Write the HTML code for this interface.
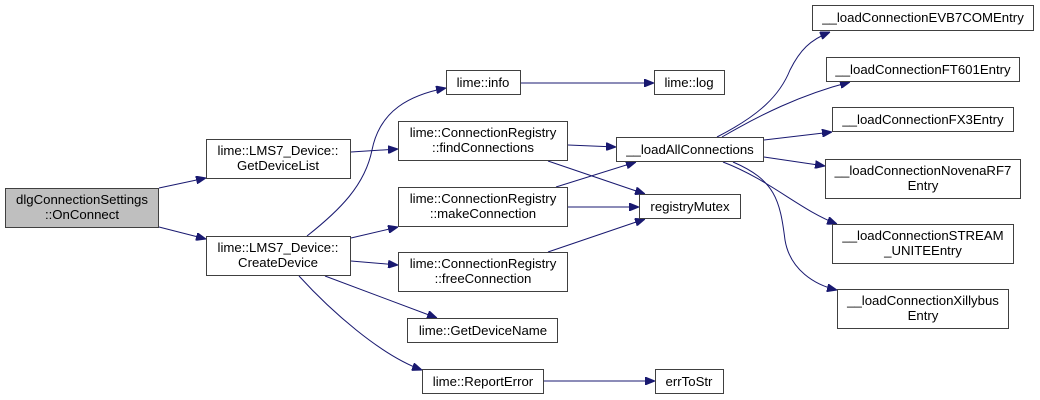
<!DOCTYPE html>
<html><head><meta charset="utf-8"><style>
html,body{margin:0;padding:0;background:#fff;}
svg{display:block;}
text{font-family:"Liberation Sans",sans-serif;font-size:13.2px;fill:#000;}
</style></head><body>
<svg width="1040" height="400" viewBox="0 0 1040 400" xmlns="http://www.w3.org/2000/svg">
<defs>
<marker id="a" viewBox="0 0 10 8" refX="10" refY="4" markerWidth="10" markerHeight="8" markerUnits="userSpaceOnUse" orient="auto">
<path d="M0,0 L10,4 L0,8 z" fill="#191970" stroke="#191970"/>
</marker>
</defs>
<g fill="none" stroke="#191970" stroke-width="1" marker-end="url(#a)">
<path d="M159,188 L206,178"/>
<path d="M159,227 L206,239"/>
<path d="M351,152 L398,149"/>
<path d="M307,236 C340,210 365,185 372,150 C380,110 410,95 446,88"/>
<path d="M351,238 L398,227"/>
<path d="M351,261 L398,265"/>
<path d="M325,276 L437,318"/>
<path d="M299,276 C330,310 380,355 422,370"/>
<path d="M521,83 L654,83"/>
<path d="M568,145 L616,147"/>
<path d="M548,161 L645,194"/>
<path d="M556,187 L636,162"/>
<path d="M568,207 L639,207"/>
<path d="M548,252 L645,219"/>
<path d="M544,381 L655,381"/>
<path d="M717,137 C760,115 780,95 790,70 C800,50 810,40 830,32"/>
<path d="M722,137 C760,115 800,95 850,82"/>
<path d="M764,140 L832,132"/>
<path d="M764,157 L825,166"/>
<path d="M723,162 C770,180 800,210 837,224"/>
<path d="M733,162 C775,180 780,200 785,240 C790,270 815,285 837,290"/>
</g>
<g stroke="#404040" stroke-width="1">
<rect x="5.5" y="188.5" width="153" height="39" fill="#bfbfbf"/>
<rect x="206.5" y="139.5" width="144" height="39" fill="#fff"/>
<rect x="206.5" y="236.5" width="144" height="39" fill="#fff"/>
<rect x="446.5" y="70.5" width="74" height="24" fill="#fff"/>
<rect x="654.5" y="70.5" width="70" height="24" fill="#fff"/>
<rect x="398.5" y="121.5" width="169" height="39" fill="#fff"/>
<rect x="616.5" y="137.5" width="147" height="24" fill="#fff"/>
<rect x="398.5" y="187.5" width="169" height="39" fill="#fff"/>
<rect x="639.5" y="194.5" width="101" height="24" fill="#fff"/>
<rect x="398.5" y="252.5" width="169" height="39" fill="#fff"/>
<rect x="407.5" y="318.5" width="150" height="24" fill="#fff"/>
<rect x="422.5" y="369.5" width="121" height="24" fill="#fff"/>
<rect x="655.5" y="369.5" width="68" height="24" fill="#fff"/>
<rect x="812.5" y="5.5" width="221" height="25" fill="#fff"/>
<rect x="826.5" y="57.5" width="193" height="24" fill="#fff"/>
<rect x="832.5" y="107.5" width="181" height="24" fill="#fff"/>
<rect x="825.5" y="159.5" width="195" height="39" fill="#fff"/>
<rect x="832.5" y="224.5" width="181" height="39" fill="#fff"/>
<rect x="837.5" y="289.5" width="171" height="39" fill="#fff"/>
</g>
<g text-anchor="middle">
<text x="82" y="204">dlgConnectionSettings</text>
<text x="82" y="219">::OnConnect</text>
<text x="278" y="155">lime::LMS7_Device::</text>
<text x="278" y="170">GetDeviceList</text>
<text x="278" y="252">lime::LMS7_Device::</text>
<text x="278" y="267">CreateDevice</text>
<text x="483" y="87">lime::info</text>
<text x="689" y="87">lime::log</text>
<text x="483" y="137">lime::ConnectionRegistry</text>
<text x="483" y="152">::findConnections</text>
<text x="690" y="154">__loadAllConnections</text>
<text x="483" y="203">lime::ConnectionRegistry</text>
<text x="483" y="218">::makeConnection</text>
<text x="690" y="211">registryMutex</text>
<text x="483" y="268">lime::ConnectionRegistry</text>
<text x="483" y="283">::freeConnection</text>
<text x="483" y="335">lime::GetDeviceName</text>
<text x="483" y="386">lime::ReportError</text>
<text x="689" y="386">errToStr</text>
<text x="923" y="22">__loadConnectionEVB7COMEntry</text>
<text x="923" y="74">__loadConnectionFT601Entry</text>
<text x="923" y="124">__loadConnectionFX3Entry</text>
<text x="923" y="175">__loadConnectionNovenaRF7</text>
<text x="923" y="190">Entry</text>
<text x="923" y="240">__loadConnectionSTREAM</text>
<text x="923" y="255">_UNITEEntry</text>
<text x="923" y="305">__loadConnectionXillybus</text>
<text x="923" y="320">Entry</text>
</g>
</svg>
</body></html>
